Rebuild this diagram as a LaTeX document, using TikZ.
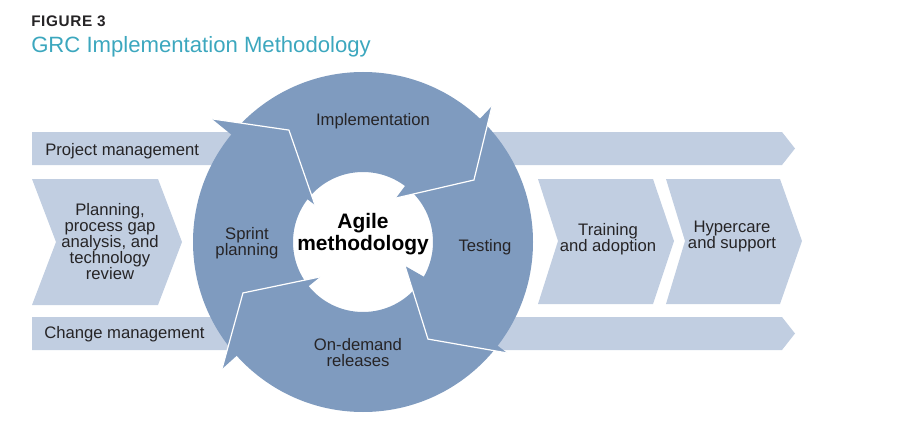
\documentclass[tikz,border=0pt]{standalone}
\usepackage{fontspec}
\setmainfont{Liberation Sans}
\newfontfamily\figfont[LetterSpace=4]{Liberation Sans}
\definecolor{ring}{RGB}{127,155,191}
\definecolor{band}{RGB}{193,206,225}
\definecolor{titleteal}{RGB}{60,167,190}
\definecolor{ink}{RGB}{38,36,38}
\tikzset{lbl/.style={text=ink, align=center, inner sep=0pt, font=\fontsize{12.5}{12}\selectfont},
  agile/.style={text=black, align=center, inner sep=0pt, font=\bfseries\fontsize{15.7}{17}\selectfont},
  sep/.style={white, line width=.9pt, line join=miter}}

\begin{document}
\begin{tikzpicture}[x=.75pt, y=-.75pt]
    \useasboundingbox (0, 0) rectangle (900, 428);
    % heading
    \node[anchor=base west, inner sep=0pt, text=ink, font=\figfont\bfseries\fontsize{11.5}{12}\selectfont](fig)at(31, 27){FIGURE 3};
    \node[anchor=base west, inner sep=0pt, text=titleteal, font=\fontsize{16.6}{18}\selectfont](title)at(31, 53){GRC Implementation Methodology};
    % bands and chevrons
    \fill[band](32, 132)--(782, 132)--(795, 148.5)--(782, 165)--(32, 165)--cycle;
    \fill[band](32, 317)--(782, 317)--(795, 333.5)--(782, 350)--(32, 350)--cycle;
    \fill[band](32, 179)--(158, 179)--(182, 242)--(158, 305)--(32, 305)--(56, 242)--cycle;
    \fill[band](538, 179)--(653, 179)--(674, 241)--(653, 304)--(538, 304)--(558, 241)--cycle;
    \fill[band](666, 179)--(780, 179)--(802, 241)--(780, 304)--(666, 304)--(685, 241)--cycle;
    % cycle of arrows
    \begin{scope}[shift={(363, 242)}, yscale=-1]
        \fill[ring, even odd rule](0, 0)circle[radius=170](0, 0)circle[radius=70];
        \fill[ring](46.5:165)--(46.5:187.4)--(29.2:127.1)--(53.1:55)--(53.1:75)--cycle;
        \draw[sep](46.5:187.4)--(29.2:127.1)--(53.1:55);
        \fill[ring](-37.6:165)--(-37.6:181.8)--(-56.2:116.8)--(-29.7:48.4)--(-29.7:75)--cycle;
        \draw[sep](-37.6:181.8)--(-56.2:116.8)--(-29.7:48.4);
        \fill[ring](-138:165)--(-138:189.8)--(-157:130.4)--(-140.9:55.4)--(-140.9:75)--cycle;
        \draw[sep](-138:189.8)--(-157:130.4)--(-140.9:55.4);
        \fill[ring](140.8:165)--(140.8:194.8)--(123.5:134.2)--(142.4:60.6)--(142.4:75)--cycle;
        \draw[sep](140.8:194.8)--(123.5:134.2)--(142.4:60.6);
    \end{scope}
    % labels
    \node[agile](agile)at(363, 234){Agile\\methodology};
    \node[lbl](impl)at(373, 121){Implementation};
    \node[lbl](sprint)at(247, 243){Sprint\\planning};
    \node[lbl](test)at(485, 247){Testing};
    \node[lbl](rel)at(358, 353){On-demand\\releases};
    \node[lbl, anchor=base west](pm)at(45, 156){Project management};
    \node[lbl, anchor=base west](cm)at(44, 338.5){Change management};
    \node[lbl](plan)at(110, 242){Planning,\\process gap\\analysis, and\\technology\\review};
    \node[lbl](train)at(608, 239){Training\\and adoption};
    \node[lbl](care)at(732, 236){Hypercare\\and support};
\end{tikzpicture}
\end{document}
